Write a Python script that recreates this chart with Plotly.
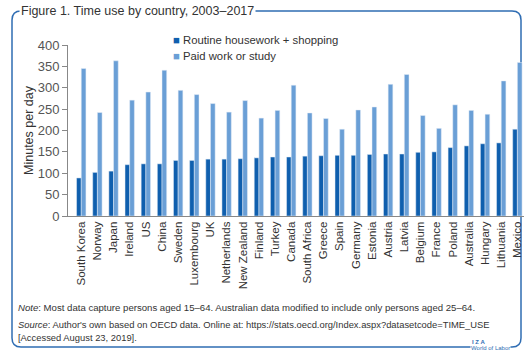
import plotly.graph_objects as go

countries = ["South Korea", "Norway", "Japan", "Ireland", "US", "China", "Sweden",
             "Luxembourg", "UK", "Netherlands", "New Zealand", "Finland", "Turkey",
             "Canada", "South Africa", "Greece", "Spain", "Germany", "Estonia",
             "Austria", "Latvia", "Belgium", "France", "Poland", "Australia",
             "Hungary", "Lithuania", "Mexico"]
housework = [89, 102, 105, 120, 122, 122, 130, 130, 133, 133, 134, 136, 138, 138,
             140, 141, 142, 142, 144, 145, 145, 149, 150, 160, 164, 169, 171, 203]
paid_work = [345, 242, 363, 271, 290, 341, 294, 284, 263, 243, 270, 229, 247, 306,
             241, 228, 203, 248, 255, 308, 331, 235, 205, 260, 247, 238, 316, 359]
y_ticks = [0, 50, 100, 150, 200, 250, 300, 350, 400]
series_names = ["Routine housework + shopping", "Paid work or study"]

DARK = "#0f5fae"
LIGHT = "#6a9fd6"
FONT = "Liberation Sans"

fig = go.Figure()
fig.add_trace(go.Bar(x=countries, y=housework, marker_color=DARK, showlegend=False,
                     name=series_names[0]))
fig.add_trace(go.Bar(x=countries, y=paid_work, marker_color=LIGHT, showlegend=False,
                     name=series_names[1]))

L, R, T, B = 68, 6, 45, 136
W, H = 530, 352
pw, ph = W - L - R, H - T - B

def px(x):
    return (x - L) / pw

def py(y):
    return (H - B - y) / ph

# rounded border
x0, x1, y0, y1, r = 12, 521, 11, 347, 9
path = (f"M {px(x0+r)},{py(y0)} L {px(x1-r)},{py(y0)} Q {px(x1)},{py(y0)} {px(x1)},{py(y0+r)} "
        f"L {px(x1)},{py(y1-r)} Q {px(x1)},{py(y1)} {px(x1-r)},{py(y1)} "
        f"L {px(x0+r)},{py(y1)} Q {px(x0)},{py(y1)} {px(x0)},{py(y1-r)} "
        f"L {px(x0)},{py(y0+r)} Q {px(x0)},{py(y0)} {px(x0+r)},{py(y0)} Z")
fig.add_shape(type="path", path=path, xref="paper", yref="paper",
              line=dict(color="#2f6db3", width=1.5), layer="below")

annots = [
    dict(text="Figure 1. Time use by country, 2003–2017", x=px(19), y=py(11), xanchor="left",
         yanchor="middle", font=dict(size=12.5, color="#333"), bgcolor="white", borderpad=1),
    dict(text="<i>Note</i>: Most data capture persons aged 15–64. Australian data modified to include only persons aged 25–64.",
         x=px(16), y=py(307), xanchor="left", yanchor="middle", font=dict(size=9.6, color="#333")),
    dict(text="<i>Source</i>: Author's own based on OECD data. Online at: https://stats.oecd.org/Index.aspx?datasetcode=TIME_USE",
         x=px(16), y=py(324), xanchor="left", yanchor="middle", font=dict(size=9.4, color="#333")),
    dict(text="[Accessed August 23, 2019].",
         x=px(16), y=py(337), xanchor="left", yanchor="middle", font=dict(size=9.4, color="#333")),
    dict(text="<b>I Z A</b>", x=px(471), y=py(342), xanchor="left", yanchor="middle",
         font=dict(size=6, color="#2f6db3"), bgcolor="white", borderpad=0),
    dict(text="World of Labor", x=px(470), y=py(348), xanchor="left", yanchor="middle",
         font=dict(size=6, color="#2f6db3"), bgcolor="white", borderpad=0),
]
# legend entries
for i, (name, col) in enumerate(zip(series_names, [DARK, LIGHT])):
    annots.append(dict(text=f"<span style='color:{col}'>■</span> {name}",
                       x=px(171), y=py(40 + 16 * i), xanchor="left", yanchor="middle",
                       font=dict(size=11.3, color="#333")))
for a in annots:
    a.update(xref="paper", yref="paper", showarrow=False)

fig.update_layout(
    width=W, height=H,
    margin=dict(l=L, r=R, t=T, b=B, pad=0),
    paper_bgcolor="white", plot_bgcolor="white",
    font=dict(family=FONT, color="#333"),
    barmode="group", bargap=0.42, bargroupgap=0,
    annotations=annots,
    showlegend=False,
    xaxis=dict(range=[-0.82, 27.41], tickangle=-90, tickfont=dict(size=11.5, color="#333"),
               showline=True, linecolor="#888", linewidth=1, ticks="", showgrid=False),
    yaxis=dict(range=[0, 400], tickvals=y_ticks, tickfont=dict(size=13, color="#555"),
               showline=True, linecolor="#888", linewidth=1, ticks="outside", ticklen=5,
               tickcolor="#888", showgrid=False, zeroline=False,
               title=dict(text="Minutes per day", font=dict(size=12.5, color="#333"), standoff=1)),
)

fig.write_html("out.html", config={"displayModeBar": False},
               post_script="document.body.style.margin='0';")
